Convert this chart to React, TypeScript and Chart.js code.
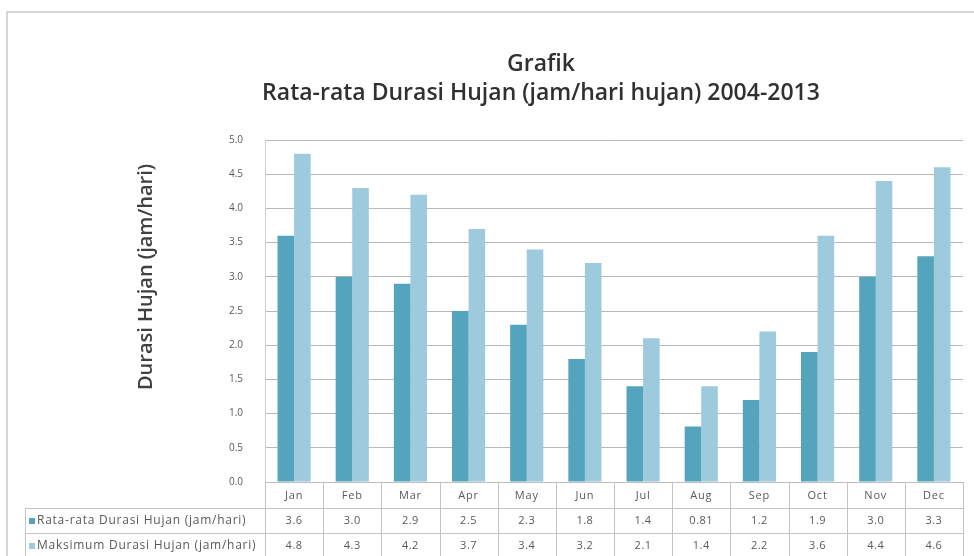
import React, { useEffect, useRef } from "react";
import { Chart, registerables } from "chart.js";

Chart.register(...registerables);

const months = ["Jan", "Feb", "Mar", "Apr", "May", "Jun", "Jul", "Aug", "Sep", "Oct", "Nov", "Dec"];
const rataRata = [3.6, 3.0, 2.9, 2.5, 2.3, 1.8, 1.4, 0.81, 1.2, 1.9, 3.0, 3.3];
const maksimum = [4.8, 4.3, 4.2, 3.7, 3.4, 3.2, 2.1, 1.4, 2.2, 3.6, 4.4, 4.6];
const seriesNames = ["Rata-rata Durasi Hujan (jam/hari)", "Maksimum Durasi Hujan (jam/hari)"];
const titleLines = ["Grafik", "Rata-rata Durasi Hujan (jam/hari hujan) 2004-2013"];
const yAxisTitle = "Durasi Hujan (jam/hari)";

const COLOR_RATA = "#55a4be";
const COLOR_MAKS = "#9dcadc";
const FONT = "'Open Sans', Lato, sans-serif";
const TEXT = "#595959";
const LINE = "#c4c4c4";

function fmt(v: number): string {
  return Math.abs(Math.round(v * 10) - v * 10) < 1e-9 ? v.toFixed(1) : v.toFixed(2);
}

// Draws the outer frame, the title, the vertical axis title and the data table under the plot.
const decorations = {
  id: "decorations",
  afterDraw(chart: any) {
    const ctx = chart.ctx as any;
    const area = chart.chartArea;
    const x = chart.scales.x;
    const n = months.length;
    const cw = (area.right - area.left) / n;
    const W = chart.width;
    const H = chart.height;

    ctx.save();

    // outer frame
    ctx.strokeStyle = "#c8c8c8";
    ctx.lineWidth = 1.5;
    ctx.beginPath();
    ctx.moveTo(7, H + 5);
    ctx.lineTo(7, 12);
    ctx.lineTo(W + 5, 12);
    ctx.stroke();

    // title
    ctx.fillStyle = "#303030";
    ctx.textAlign = "center";
    ctx.textBaseline = "middle";
    ctx.font = `600 23px ${FONT}`;
    ctx.fillText(titleLines[0], 541, 64);
    ctx.fillText(titleLines[1], 541, 93);

    // vertical axis title
    ctx.save();
    ctx.translate(146, 277);
    ctx.rotate(-Math.PI / 2);
    ctx.font = `600 20px ${FONT}`;
    ctx.fillStyle = "#404040";
    ctx.fillText(yAxisTitle, 0, 0);
    ctx.restore();

    // data table
    const top = area.bottom;
    const row1 = top + 26;
    const row2 = row1 + 25;
    const bottom = row2 + 25;
    const tableLeft = 25;

    ctx.strokeStyle = LINE;
    ctx.lineWidth = 1;
    ctx.beginPath();
    for (let i = 0; i <= n; i++) {
      const px = Math.round(area.left + i * cw) + 0.5;
      ctx.moveTo(px, top);
      ctx.lineTo(px, bottom);
    }
    ctx.moveTo(tableLeft + 0.5, row1);
    ctx.lineTo(tableLeft + 0.5, bottom);
    ctx.moveTo(tableLeft, row1 + 0.5);
    ctx.lineTo(area.right, row1 + 0.5);
    ctx.moveTo(tableLeft, row2 + 0.5);
    ctx.lineTo(area.right, row2 + 0.5);
    ctx.stroke();

    ctx.font = `11px ${FONT}`;
    ctx.letterSpacing = "0.8px";
    ctx.fillStyle = TEXT;
    ctx.textAlign = "center";
    months.forEach((m, i) => {
      ctx.fillText(m, x.getPixelForValue(i), top + 14);
    });

    const rows = [
      { name: seriesNames[0], color: COLOR_RATA, values: rataRata, y: row1 + 13 },
      { name: seriesNames[1], color: COLOR_MAKS, values: maksimum, y: row2 + 13 },
    ];
    rows.forEach((r) => {
      ctx.fillStyle = r.color;
      ctx.fillRect(tableLeft + 4, r.y - 3, 6, 6);
      ctx.fillStyle = TEXT;
      ctx.textAlign = "left";
      ctx.font = `12px ${FONT}`;
      ctx.letterSpacing = "0.75px";
      ctx.fillText(r.name, tableLeft + 12, r.y);
      ctx.textAlign = "center";
      ctx.font = `11px ${FONT}`;
      ctx.letterSpacing = "0.5px";
      r.values.forEach((v, i) => {
        ctx.fillText(fmt(v), x.getPixelForValue(i), r.y);
      });
    });
    ctx.letterSpacing = "0px";

    ctx.restore();
  },
};

export default function App() {
  const canvasRef = useRef<HTMLCanvasElement | null>(null);

  useEffect(() => {
    if (!canvasRef.current) return;
    const chart = new Chart(canvasRef.current, {
      type: "bar",
      data: {
        labels: months,
        datasets: [
          {
            label: seriesNames[0],
            data: rataRata,
            backgroundColor: COLOR_RATA,
            categoryPercentage: 0.57,
            barPercentage: 1.0,
          },
          {
            label: seriesNames[1],
            data: maksimum,
            backgroundColor: COLOR_MAKS,
            categoryPercentage: 0.57,
            barPercentage: 1.0,
          },
        ],
      },
      options: {
        responsive: true,
        maintainAspectRatio: false,
        animation: false,
        layout: { padding: { left: 0, top: 140, right: 11, bottom: 0 } },
        plugins: {
          legend: { display: false },
          title: { display: false },
          tooltip: { enabled: false },
        },
        scales: {
          x: {
            grid: { display: false },
            border: { display: true, color: "#bdbdbd" },
            ticks: { display: false },
            afterFit(scale: any) {
              scale.height = 74;
            },
          },
          y: {
            min: 0,
            max: 5,
            ticks: {
              stepSize: 0.5,
              padding: 22,
              color: TEXT,
              font: { family: FONT, size: 10 },
              callback: (v: any) => Number(v).toFixed(1),
            },
            grid: { color: "#b8b8b8", drawTicks: false },
            border: { display: true, color: "#d0d0d0" },
            afterFit(scale: any) {
              scale.width = 265;
            },
          },
        },
      },
      plugins: [decorations],
    });
    return () => chart.destroy();
  }, []);

  return (
    <div style={{ position: "absolute", left: 0, top: 0, width: 974, height: 556, background: "#ffffff" }}>
      <canvas ref={canvasRef} />
    </div>
  );
}
